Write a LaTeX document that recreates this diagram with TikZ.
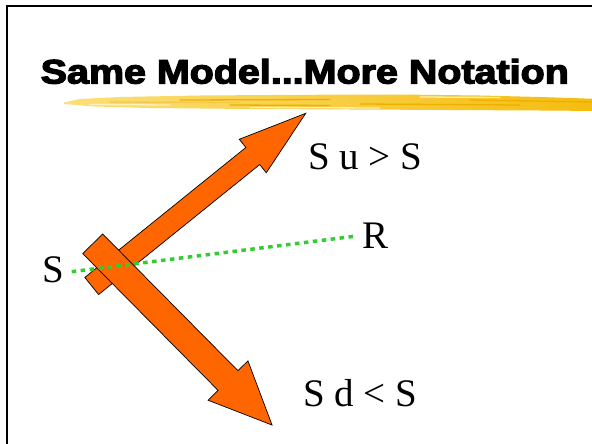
\documentclass[tikz,border=0pt]{standalone}
\usepackage{fontspec}
\setmainfont{Liberation Serif}
\newfontfamily\titlefont{Liberation Sans}[BoldFeatures={FakeBold=3.5}]
\definecolor{arroworange}{HTML}{FF6600}
\definecolor{dotgreen}{HTML}{33CC33}
\definecolor{hlight}{HTML}{FBDF78}
\definecolor{hmid}{HTML}{F8CC30}
\definecolor{hdark}{HTML}{F5BC0E}
\definecolor{hstreak}{HTML}{EEB000}
\tikzset{
  frame/.style={draw=black, line width=2pt},
  blockarrow/.style={fill=arroworange, draw=black, line width=0.7pt, line join=miter},
  greendots/.style={draw=dotgreen, line width=3.5pt, dash pattern=on 4.5pt off 4.5pt},
  lbl/.style={font=\fontsize{39}{40}\selectfont, anchor=base west, inner sep=0pt},
  titletext/.style={font=\titlefont\bfseries\fontsize{34}{35}\selectfont, anchor=base west, inner sep=0pt, xscale=1.16},
  streak/.style={line width=1.3pt, line cap=round}
}
\newcommand{\myblockarrow}[7]{%
  \begin{scope}[shift={(#1,#2)}, rotate=#3]
    \draw[blockarrow] (0,-#6) -- (#5,-#6) -- (#5,-#7) -- (#4,0) -- (#5,#7) -- (#5,#6) -- (0,#6) -- cycle;
  \end{scope}}
\begin{document}
\begin{tikzpicture}[x=1pt, y=-1pt]
\useasboundingbox (0,0) rectangle (592,444);
\clip (0,0) rectangle (592,444);
\fill[white] (0,0) rectangle (592,444);
% slide frame (right and bottom edges fall outside the picture)
\draw[frame] (7,6) rectangle (620,470);
% title
\node[titletext] (title) at (40.5,83.5) {Same Model...More Notation};
% highlighter stroke
\shade[left color=hlight, middle color=hmid, right color=hdark]
  (64,102.5) -- (80,99) -- (120,97) -- (200,95.5) -- (300,94.8) -- (400,94.5) -- (480,95.5) -- (540,97) -- (600,99)
  -- (600,111) -- (540,110.5) -- (450,110) -- (350,109.5) -- (250,109) -- (150,108) -- (95,106.5) -- (64,104) -- cycle;
\draw[streak, hstreak] (180,100) -- (330,99.5);
\draw[streak, hstreak] (360,104) -- (520,105);
\draw[streak, hstreak] (470,100) -- (592,102);
\draw[streak, hstreak] (230,105) -- (330,105.5);
\draw[streak, hstreak!70!white] (110,102) -- (240,102.5);
\draw[streak, white!50!hlight] (250,107.5) -- (380,108);
\draw[streak, white!50!hlight] (420,97) -- (500,97.5);
\draw[streak, white!50!hlight] (90,104.5) -- (170,105);
% arrows
\myblockarrow{91.7}{286}{38.9}{275}{207}{11}{21.5}
\myblockarrow{92.7}{243.8}{-45.3}{255}{192.4}{14}{28}
% labels
\node[lbl] (s) at (42,282.7) {S};
\node[lbl] (su) at (308,169.3) {S u > S};
\node[lbl] (r) at (362,248.3) {R};
\node[lbl] (sd) at (303,406) {S d < S};
% dotted line S -- R
\coordinate (gS) at (71.7,271.7);
\coordinate (gR) at (356.7,236);
\draw[greendots] (gS) -- (gR);
\end{tikzpicture}
\end{document}
